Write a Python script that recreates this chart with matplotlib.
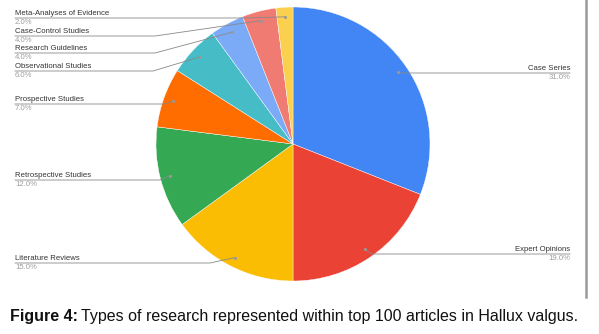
import numpy as np
import matplotlib.pyplot as plt

categories = ["Case Series", "Expert Opinions", "Literature Reviews", "Retrospective Studies",
              "Prospective Studies", "Observational Studies", "Research Guidelines",
              "Case-Control Studies", "Meta-Analyses of Evidence"]
values = [31, 19, 15, 12, 7, 6, 4, 4, 2]
colors = ["#4285F4", "#EA4335", "#FBBC04", "#34A853", "#FF6D01",
          "#46BDC6", "#7BAAF7", "#F07B72", "#FCD04F"]

W, H = 599, 334
fig = plt.figure(figsize=(W / 100, H / 100), dpi=100)
ax = fig.add_axes([0, 0, 1, 1])
plt.rcParams['font.family'] = ['Liberation Sans', 'DejaVu Sans']

cx, cy, r = 293, H - 144, 137
wedges, _ = ax.pie(values, colors=colors, startangle=90, counterclock=False,
                   center=(cx, cy), radius=r,
                   wedgeprops=dict(linewidth=0.3, edgecolor="white"))
ax.set_xlim(0, W)
ax.set_ylim(0, H)
ax.set_aspect("auto")
ax.axis("off")

# label layout: (text x, line y in pixels from top, elbow x, side)
layout = {
    "Case Series": (570, 73, 405, "right"),
    "Expert Opinions": (570, 254, 372, "right"),
    "Literature Reviews": (15, 263, 210, "left"),
    "Retrospective Studies": (15, 180, 160, "left"),
    "Prospective Studies": (15, 104, 165, "left"),
    "Observational Studies": (15, 71, 153, "left"),
    "Research Guidelines": (15, 53, 155, "left"),
    "Case-Control Studies": (15, 36, 155, "left"),
    "Meta-Analyses of Evidence": (15, 18, 245, "left"),
}

total = sum(values)
for w, name, v in zip(wedges, categories, values):
    mid = np.deg2rad((w.theta1 + w.theta2) / 2)
    axp = cx + 0.93 * r * np.cos(mid)
    ayp = cy + 0.93 * r * np.sin(mid)
    tx, ly, ex, side = layout[name]
    ly = H - ly
    ax.plot([tx, ex, axp], [ly, ly, ayp], color="#888888", lw=0.6)
    ax.plot(axp, ayp, "o", color="#999999", ms=1.2)
    ax.text(tx, ly + 1, name, ha=side, va="bottom", fontsize=5.6, color="#333333")
    ax.text(tx, ly - 1, f"{v / total * 100:.1f}%", ha=side, va="top",
            fontsize=5.6, color="#9e9e9e")

# frame line on the right
ax.plot([586, 586], [H, H - 297], color="#9a9a9a", lw=1.8)

# caption
cap = ax.text(10, H - 316, "Figure 4:", ha="left", va="center", fontsize=11.5,
              fontweight="bold", color="#111111")
fig.canvas.draw()
bb = cap.get_window_extent()
ax.text(bb.x1 + 3, H - 316, "Types of research represented within top 100 articles in Hallux valgus.",
        ha="left", va="center", fontsize=11.5, color="#111111")

fig.savefig("out.png", dpi=100)
